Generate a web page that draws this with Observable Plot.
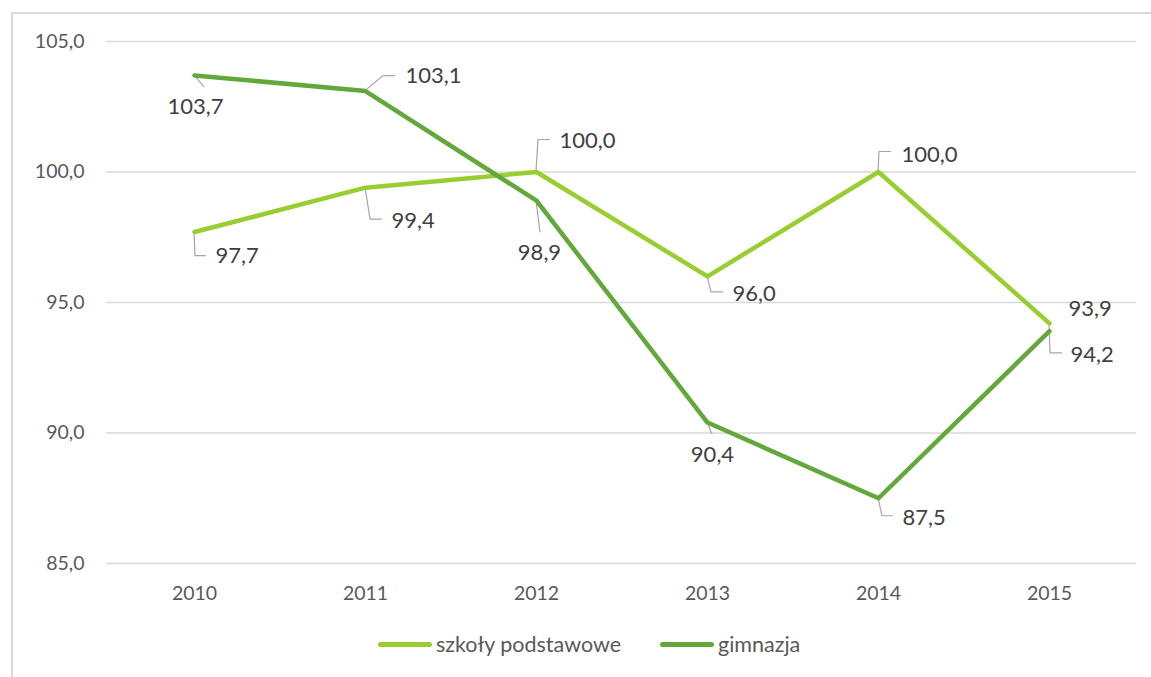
<!DOCTYPE html>
<html>
<head>
<meta charset="utf-8">
<script src="https://cdn.jsdelivr.net/npm/d3@7"></script>
<script src="https://cdn.jsdelivr.net/npm/@observablehq/plot@0.6"></script>
<style>
  html, body { margin: 0; padding: 0; background: #fff; }
  #wrap { position: relative; width: 1151px; height: 677px; overflow: hidden; font-family: Lato, "Open Sans", sans-serif; }
  #frame { position: absolute; left: 11px; top: 12px; width: 1160px; height: 700px; border-left: 2px solid #d9d9d9; border-top: 2px solid #d9d9d9; box-sizing: border-box; }
  #chart { position: absolute; left: 0; top: 0; }
  #legend { position: absolute; top: 631px; left: 0; width: 1151px; font-size: 21.5px; color: #595959; }
  .item { display: flex; align-items: center; position: absolute; top: 0; }
  .sw { display: inline-block; width: 54px; height: 5px; border-radius: 3px; margin-right: 4px; }
</style>
</head>
<body>
<div id="wrap">
  <div id="frame"></div>
  <div id="chart"></div>
  <div id="legend"></div>
</div>
<script>
// ---- data ----
const years = ["2010", "2011", "2012", "2013", "2014", "2015"];
const podstawowe = [97.7, 99.4, 100.0, 96.0, 100.0, 94.2];
const gimnazja = [103.7, 103.1, 98.9, 90.4, 87.5, 93.9];
const seriesNames = ["szkoły podstawowe", "gimnazja"];
const yTicks = [85, 90, 95, 100, 105];

// ---- styling / placement (pixel offsets relative to each point) ----
const colors = ["#9ACD32", "#62A83A"];
const place = [
  [ // szkoły podstawowe
    {dx: 21, dy: 24, anchor: "start", leader: [[0,0],[1,24],[12,24]]},
    {dx: 26, dy: 33, anchor: "start", leader: [[0,0],[5,32],[17,32]]},
    {dx: 23, dy: -31, anchor: "start", leader: [[0,0],[2,-32],[14,-32]]},
    {dx: 25, dy: 18, anchor: "start", leader: [[0,0],[4,16],[16,16]]},
    {dx: 23, dy: -17, anchor: "start", leader: [[0,0],[1,-20],[13,-20]]},
    {dx: 21, dy: 32, anchor: "start", leader: [[0,0],[1,30],[13,30]]}
  ],
  [ // gimnazja
    {dx: 1, dy: 32, anchor: "middle", leader: [[0,0],[10,12]]},
    {dx: 40, dy: -15, anchor: "start", leader: [[0,0],[18,-15],[30,-15]]},
    {dx: 3, dy: 52, anchor: "middle", leader: [[0,0],[4,32]]},
    {dx: 5, dy: 32, anchor: "middle", leader: [[0,0],[5,12]]},
    {dx: 24, dy: 20, anchor: "start", leader: [[0,0],[4,18],[15,18]]},
    {dx: 19, dy: -22, anchor: "start", leader: null}
  ]
];

const fmt = v => v.toFixed(1).replace(".", ",");
const seriesValues = [podstawowe, gimnazja];
const rows = seriesValues.map((vals, s) => years.map((yr, i) => ({year: yr, value: vals[i], series: seriesNames[s], s, i})));

function leaders(index, scales) {
  const g = d3.create("svg:g").attr("fill", "none").attr("stroke", "#a6a6a6").attr("stroke-width", 1.2);
  rows.forEach((r, s) => r.forEach((d, i) => {
    const p = place[s][i];
    if (!p.leader) return;
    const px = scales.x(d.year), py = scales.y(d.value);
    g.append("path").attr("d", d3.line()(p.leader.map(([a, b]) => [px + a, py + b])));
  }));
  return g.node();
}

const labelMarks = [];
rows.forEach((r, s) => r.forEach((d, i) => {
  const p = place[s][i];
  labelMarks.push(Plot.text([d], {
    x: "year", y: "value", text: dd => fmt(dd.value),
    dx: p.dx, dy: p.dy, textAnchor: p.anchor,
    fill: "#404040", fontSize: 22, fontFamily: "Lato, 'Open Sans', sans-serif"
  }));
}));

const chart = Plot.plot({
  width: 1151,
  height: 615,
  marginLeft: 106,
  marginRight: 15,
  marginTop: 41,
  marginBottom: 52,
  style: {fontFamily: "Lato, 'Open Sans', sans-serif", background: "transparent", overflow: "visible"},
  x: {type: "point", domain: years, padding: 0.5, label: null},
  y: {domain: [85, 105], label: null},
  marks: [
    Plot.ruleY(yTicks, {stroke: "#d9d9d9", strokeWidth: 1.5}),
    Plot.axisX({tickSize: 0, tickPadding: 23, fontSize: 19.5, fill: "#595959", label: null}),
    Plot.axisY({ticks: yTicks, tickSize: 0, tickPadding: 22, tickFormat: fmt, fontSize: 19.5, fill: "#595959", label: null}),
    leaders,
    Plot.line(rows[0], {x: "year", y: "value", stroke: colors[0], strokeWidth: 4.5, strokeLinejoin: "round", strokeLinecap: "round"}),
    Plot.line(rows[1], {x: "year", y: "value", stroke: colors[1], strokeWidth: 4.5, strokeLinejoin: "round", strokeLinecap: "round"}),
    ...labelMarks
  ]
});
document.getElementById("chart").appendChild(chart);

// legend
const legend = document.getElementById("legend");
const legendLeft = [378, 660];
seriesNames.forEach((name, s) => {
  const it = document.createElement("div");
  it.className = "item";
  it.style.left = legendLeft[s] + "px";
  const sw = document.createElement("span");
  sw.className = "sw";
  sw.style.background = colors[s];
  const t = document.createElement("span");
  t.textContent = name;
  it.appendChild(sw); it.appendChild(t);
  legend.appendChild(it);
});
</script>
</body>
</html>
